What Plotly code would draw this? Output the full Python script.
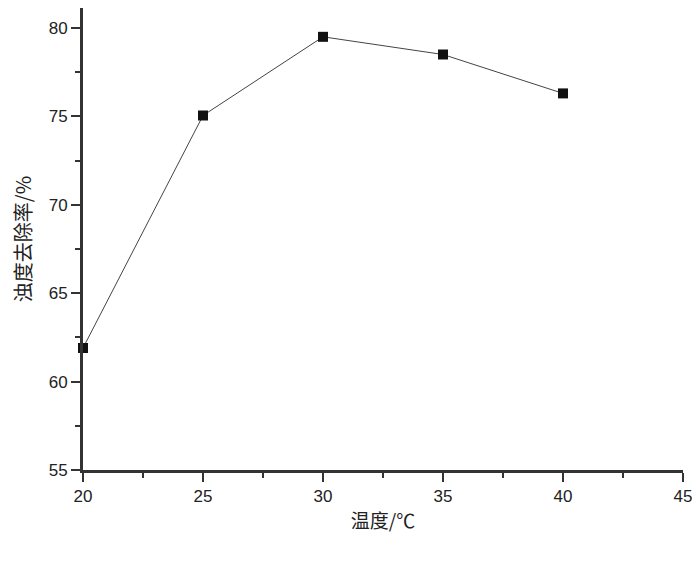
import plotly.graph_objects as go

temperature = [20, 25, 30, 35, 40]
removal_rate = [61.9, 75.05, 79.5, 78.5, 76.3]
x_ticks = [20, 25, 30, 35, 40, 45]
y_ticks = [55, 60, 65, 70, 75, 80]

fig = go.Figure()
fig.add_trace(go.Scatter(
    x=temperature, y=removal_rate, mode="lines+markers",
    line=dict(color="#444444", width=1),
    marker=dict(symbol="square", size=10, color="#111111"),
    cliponaxis=False, showlegend=False,
))

# page body has an 8px margin, so the figure is sized to fit the 700x567 window
fig.update_layout(
    width=692, height=559,
    margin=dict(l=75, r=17, t=0, b=97),
    plot_bgcolor="white", paper_bgcolor="white",
    font=dict(family="Liberation Sans, Arial, sans-serif", size=17, color="#222222"),
)
fig.update_xaxes(
    range=[20, 45], tickvals=x_ticks, ticks="outside", ticklen=9, tickwidth=2,
    tickcolor="#333333", showline=True, linecolor="#333333", linewidth=3,
    showgrid=False, zeroline=False, automargin=False,
    minor=dict(ticks="outside", ticklen=5, tickwidth=2, tickcolor="#333333", dtick=2.5),
    title=dict(text="温度/℃", font=dict(family="Noto Sans CJK SC", size=19), standoff=10),
)
fig.update_yaxes(
    range=[55, 81.13], tickvals=y_ticks, ticks="outside", ticklen=9, tickwidth=2,
    tickcolor="#333333", showline=True, linecolor="#333333", linewidth=3,
    showgrid=False, zeroline=False, automargin=False,
    minor=dict(ticks="outside", ticklen=5, tickwidth=2, tickcolor="#333333", dtick=2.5),
    title=dict(text="浊度去除率/%", font=dict(family="Noto Sans CJK SC", size=20), standoff=16),
)

fig.write_html("out.html")
